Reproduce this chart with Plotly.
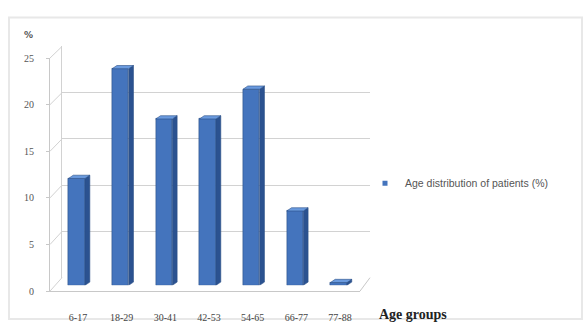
import plotly.graph_objects as go

# Age distribution of patients (%) by age group
age_groups = ["6-17", "18-29", "30-41", "42-53", "54-65", "66-77", "77-88"]
share_pct = [11.5, 23.3, 17.9, 17.9, 21.1, 8.0, 0.3]
y_ticks = [0, 5, 10, 15, 20, 25]
series_name = "Age distribution of patients (%)"

W, H = 588, 327


def px_x(v):
    return v / W


def px_y(v):
    return 1 - v / H


idx = list(range(len(age_groups)))

# 3-D column geometry (in category units / value units)
FRONT_OFF, FRONT_W = -0.22, 0.38
SIDE_W = 0.11
DEPTH_DY = 0.35

front_color = "#4474bd"
side_color = "#2b5290"
top_color = "#6a9ade"
edge_color = "#2a4f86"

fig = go.Figure()

# back wall (grid) subplot
fig.add_trace(go.Scatter(x=[None], y=[None], xaxis="x", yaxis="y",
                         showlegend=False, hoverinfo="skip"))

# front faces of the columns
fig.add_trace(go.Bar(
    x=idx, y=share_pct, xaxis="x2", yaxis="y2",
    width=FRONT_W, offset=FRONT_OFF,
    marker=dict(color=front_color, line=dict(color=edge_color, width=0.6)),
    showlegend=False, name=series_name,
))

# side and top faces of the columns
side_x, side_y, top_x, top_y = [], [], [], []
for i, v in zip(idx, share_pct):
    xr = i + FRONT_OFF + FRONT_W
    side_x += [xr, xr, xr + SIDE_W, xr + SIDE_W, xr, None]
    side_y += [0, v, v + DEPTH_DY, DEPTH_DY, 0, None]
    xl = i + FRONT_OFF
    top_x += [xl, xr, xr + SIDE_W, xl + SIDE_W, xl, None]
    top_y += [v, v, v + DEPTH_DY, v + DEPTH_DY, v, None]

fig.add_trace(go.Scatter(x=side_x, y=side_y, xaxis="x2", yaxis="y2",
                         mode="lines", fill="toself", fillcolor=side_color,
                         line=dict(color=edge_color, width=0.6),
                         showlegend=False, hoverinfo="skip"))
fig.add_trace(go.Scatter(x=top_x, y=top_y, xaxis="x2", yaxis="y2",
                         mode="lines", fill="toself", fillcolor=top_color,
                         line=dict(color=edge_color, width=0.6),
                         showlegend=False, hoverinfo="skip"))

# legend entry
fig.add_trace(go.Scatter(x=[None], y=[None], xaxis="x2", yaxis="y2",
                         mode="markers", name=series_name,
                         marker=dict(symbol="square", size=5, color=front_color)))

# front value axis
fig.add_trace(go.Scatter(x=[None], y=[None], xaxis="x3", yaxis="y3",
                         showlegend=False, hoverinfo="skip"))

serif = "Liberation Serif"
grid_col = "#d2d2d2"

fig.update_layout(
    width=W, height=H,
    margin=dict(l=0, r=0, t=0, b=0),
    paper_bgcolor="white",
    plot_bgcolor="rgba(0,0,0,0)",
    bargap=0,
    # back wall
    xaxis=dict(domain=[px_x(62), px_x(370)], range=[0, 1], anchor="y",
               showgrid=False, zeroline=False, showticklabels=False,
               showline=False, ticks=""),
    yaxis=dict(domain=[px_y(282), px_y(42)], range=[0, 25], anchor="x",
               tickvals=y_ticks, showgrid=True, gridcolor=grid_col, gridwidth=1.2,
               zeroline=False, showticklabels=False, ticks="",
               showline=True, linecolor=grid_col, linewidth=1),
    # columns
    xaxis2=dict(domain=[px_x(56.2), px_x(361.8)], range=[-0.5, 6.5], anchor="y2",
                tickvals=idx, ticktext=age_groups, showgrid=False, zeroline=False,
                showline=False, ticks="", ticklabelstandoff=25,
                tickfont=dict(family=serif, size=10, color="#444444")),
    yaxis2=dict(domain=[px_y(290), px_y(39.1)], range=[0, 26], anchor="x2",
                showgrid=False, zeroline=False, showticklabels=False,
                showline=False, ticks=""),
    # front value axis and floor edge
    xaxis3=dict(domain=[px_x(50), px_x(360)], range=[0, 1], anchor="y3",
                showgrid=False, zeroline=False, showticklabels=False,
                showline=True, linecolor="#c8c8c8", linewidth=1, ticks=""),
    yaxis3=dict(domain=[px_y(296), px_y(54)], range=[0, 25], anchor="x3",
                tickvals=y_ticks, showgrid=False, zeroline=False,
                showline=True, linecolor="#c8c8c8", linewidth=1,
                ticks="outside", ticklen=3, tickcolor="#c8c8c8",
                ticklabelstandoff=10,
                tickfont=dict(family=serif, size=10, color="#555555")),
    legend=dict(x=px_x(365), y=px_y(184), xanchor="left", yanchor="middle",
                font=dict(family="Liberation Sans", size=10.5, color="#555555"),
                bgcolor="rgba(0,0,0,0)", itemwidth=30),
    showlegend=True,
    font=dict(family=serif),
)

# chart frame
shapes = [dict(type="rect", xref="paper", yref="paper",
               x0=px_x(9), x1=px_x(582), y0=px_y(325), y1=px_y(12),
               line=dict(color="#e8e8e8", width=2), layer="below")]
# connectors from front ticks to back-wall gridlines
for t in y_ticks:
    yf = 296 - t * (296 - 54) / 25
    yb = 282 - t * (282 - 42) / 25
    shapes.append(dict(type="line", xref="paper", yref="paper",
                       x0=px_x(50), y0=px_y(yf), x1=px_x(62), y1=px_y(yb),
                       line=dict(color=grid_col, width=1)))
# right edge of the floor
shapes.append(dict(type="line", xref="paper", yref="paper",
                   x0=px_x(360), y0=px_y(296), x1=px_x(370), y1=px_y(282),
                   line=dict(color="#c8c8c8", width=1)))
fig.update_layout(shapes=shapes)

fig.add_annotation(text="<b>%</b>", xref="paper", yref="paper",
                   x=px_x(28), y=px_y(30), xanchor="center", yanchor="middle",
                   showarrow=False,
                   font=dict(family="DejaVu Sans", size=9, color="#555555"))
fig.add_annotation(text="<b>Age groups</b>", xref="paper", yref="paper",
                   x=px_x(413), y=px_y(320), xanchor="center", yanchor="middle",
                   showarrow=False,
                   font=dict(family=serif, size=14, color="#222222"))

fig.write_html("out.html")
